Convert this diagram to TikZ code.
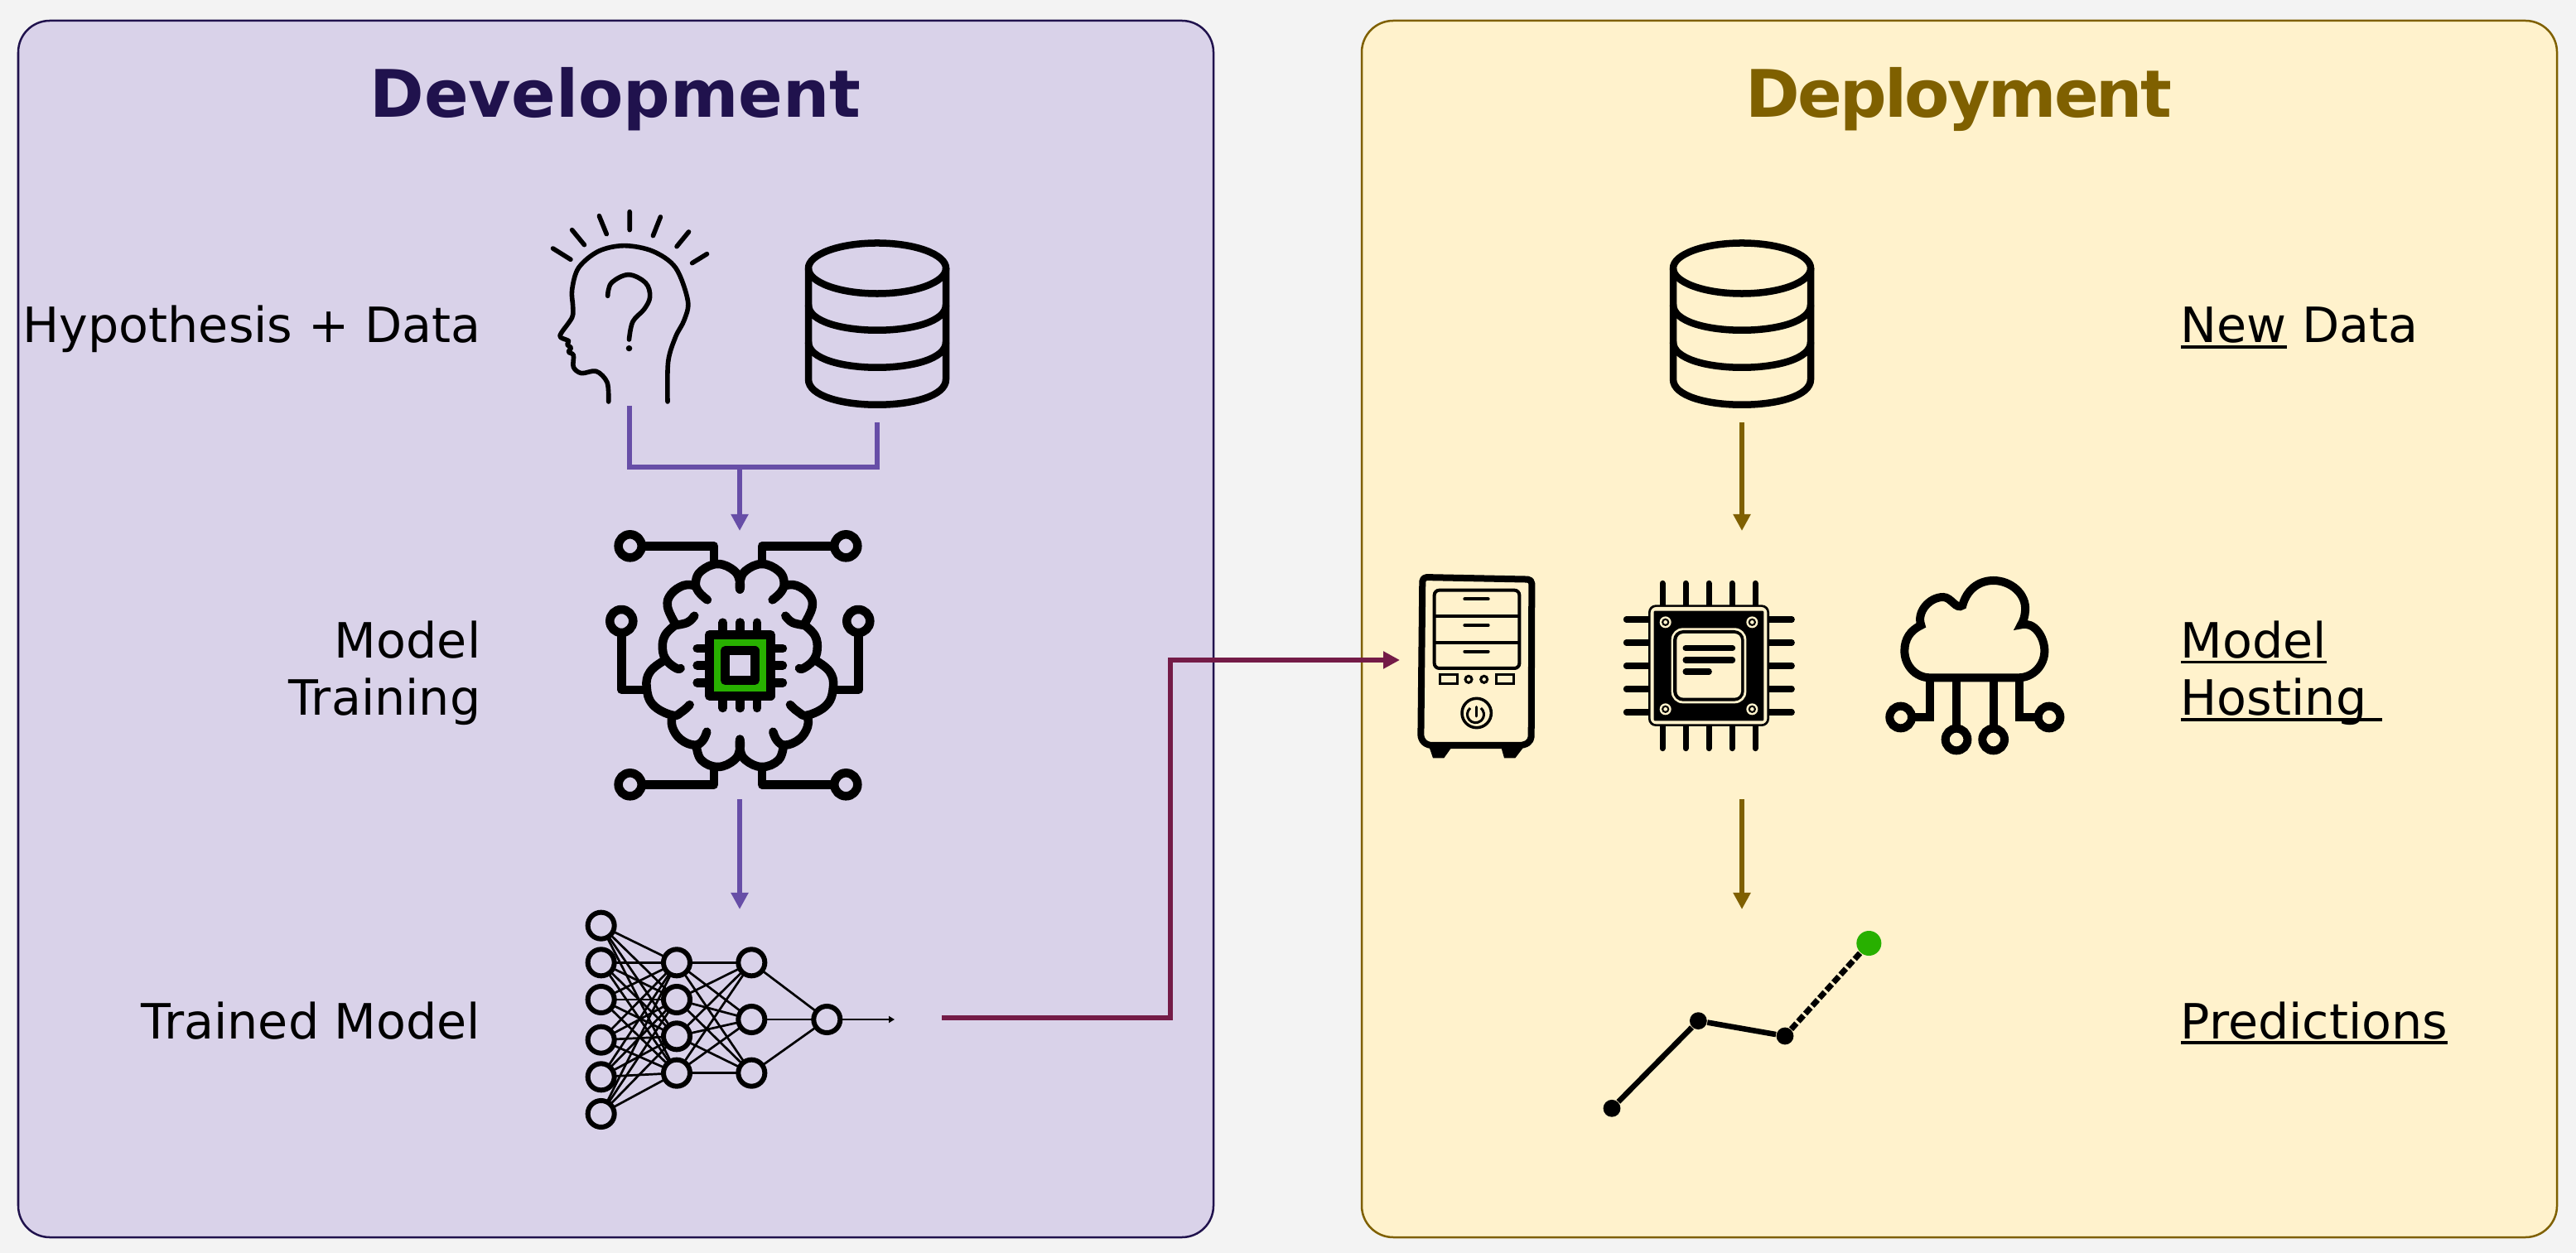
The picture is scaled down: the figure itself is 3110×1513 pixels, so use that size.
\documentclass[tikz,border=0pt]{standalone}
\usepackage{fontspec}
\setmainfont{DejaVu Sans}
\usetikzlibrary{arrows.meta}

\definecolor{pagebg}{HTML}{F3F3F3}
\definecolor{devfill}{HTML}{D9D2E9}
\definecolor{devedge}{HTML}{20124D}
\definecolor{devflow}{HTML}{674EA7}
\definecolor{depfill}{HTML}{FFF2CC}
\definecolor{depedge}{HTML}{7F6000}
\definecolor{handover}{HTML}{741B47}
\definecolor{chipgreen}{HTML}{28B000}

\newcommand{\ulword}[1]{\setbox0\hbox{#1}\rlap{\vrule height -.85pt depth 1.9pt width\wd0}\box0\relax}

\tikzset{
  panel/.style={rounded corners=.38cm,line width=.025cm},
  heading/.style={font=\bfseries\fontsize{22.5}{26}\selectfont},
  rowlabel/.style={font=\fontsize{16.7}{19.7}\selectfont,inner sep=0pt},
  flowline/.style={line width=.06cm},
  flowarrow/.style={line width=.06cm,-{Triangle[length=.2cm,width=.2cm]}},
  thickicon/.style={line width=.105cm,line cap=round,line join=round},
  dbline/.style={line width=.085cm,line join=round},
  headline/.style={line width=.056cm,line cap=round,line join=round},
  nnunit/.style={circle,draw,line width=.06cm,fill=devfill,minimum size=.32cm,inner sep=0pt,outer sep=0pt},
  nnedge/.style={line width=.027cm},
  chippin/.style={line width=.07cm,line cap=round},
  dbicon/.pic={
    \draw[dbline] (0,0) ellipse [x radius=.83cm,y radius=.305cm];
    \draw[dbline] (-83,0) -- (-83,134) .. controls (-83,175) and (83,175) .. (83,134) -- (83,0);
    \draw[dbline] (-83,44) .. controls (-83,85) and (83,85) .. (83,44);
    \draw[dbline] (-83,89) .. controls (-83,130) and (83,130) .. (83,89);
  }
}

\begin{document}
\begin{tikzpicture}[x=.01cm,y=-.01cm]
  \fill[pagebg] (0,0) rectangle (3110,1513);
  \useasboundingbox (0,0) rectangle (3110,1513);

  \draw[panel,draw=devedge,fill=devfill] (22,25) rectangle (1465,1494);
  \draw[panel,draw=depedge,fill=depfill] (1644,25) rectangle (3087,1494);

  \node[heading,text=devedge] (devtitle) at (743,120){Development};
  \node[heading,text=depedge] (deptitle) at (2365,120){\addfontfeature{LetterSpace=-3.5}Deployment};

  \node[rowlabel,anchor=base east] (devdata) at (581,414){Hypothesis + Data};
  \node[rowlabel,anchor=east,align=right] (devtrain) at (581,813){Model\\Training};
  \node[rowlabel,anchor=base east] (devmodel) at (581,1254){Trained Model};
  \node[rowlabel,anchor=base west] (depdata) at (2632,414){\ulword{New} Data};
  \node[rowlabel,anchor=west,align=left] (dephost) at (2632,813){\ulword{Model}\\\ulword{Hosting\ }};
  \node[rowlabel,anchor=base west] (deppred) at (2632,1254){\ulword{Predictions}};

  % head
  \begin{scope}[shift={(640,230)},xscale=.3444,yscale=1/3]
    \draw[headline] (80,210) -- (142,250) (147,143) -- (190,197) (242,92) -- (268,158)
      (349,77) -- (349,143) (457,96) -- (431,164) (556,150) -- (514,203) (620,230) -- (568,263);
    \draw[headline] plot[smooth,tension=.55] coordinates {(275,765) (270,695) (232,655) (180,662)
      (152,640) (152,597) (135,585) (143,570) (130,558) (135,545) (107,532) (110,515) (147,460)
      (150,420) (147,360) (170,280) (240,220) (330,200) (430,220) (510,280) (553,400) (540,470)
      (510,530) (484,620) (482,765)};
    \draw[headline] plot[smooth,tension=.6] coordinates {(272,382) (285,335) (345,305) (405,335)
      (420,385) (400,430) (360,475) (347,540)};
    \fill (347,572) circle [radius=.11cm];
  \end{scope}

  \pic at (1059,324) {dbicon};
  \pic at (2103,324) {dbicon};

  % brain
  \begin{scope}[shift={(893.3,621)},scale=1/3]
    \draw[thickicon] (-398,115) circle [radius=.42cm];
    \draw[thickicon] (384,115) circle [radius=.42cm];
    \draw[thickicon] (-398,979) circle [radius=.42cm];
    \draw[thickicon] (384,979) circle [radius=.42cm];
    \draw[thickicon] (-345,115) -- (-94,115) -- (-94,175);
    \draw[thickicon] (330,115) -- (80,115) -- (80,175);
    \draw[thickicon] (-345,979) -- (-94,979) -- (-94,920);
    \draw[thickicon] (330,979) -- (80,979) -- (80,920);
    \foreach \s in {1,-1}{
      \begin{scope}[xscale=\s]
        \draw[thickicon] (-429,387) circle [radius=.42cm];
        \draw[thickicon] (-429,440) -- (-429,636) -- (-345,636);
        \draw[thickicon] plot[smooth,tension=.7] coordinates {(0,272) (0,245) (-20,205) (-80,180)
          (-140,205) (-160,245) (-150,280) (-118,310)};
        \draw[thickicon] plot[smooth,tension=.7] coordinates {(-165,258) (-205,258) (-250,290)
          (-262,335) (-235,395)};
        \draw[thickicon] plot[smooth,tension=.7] coordinates {(-165,368) (-190,392) (-235,402)};
        \draw[thickicon] plot[smooth,tension=.7] coordinates {(-235,402) (-272,440) (-280,490)
          (-265,530) (-230,558) (-215,558)};
        \draw[thickicon] plot[smooth,tension=.7] coordinates {(-275,530) (-325,570) (-338,625)
          (-315,690) (-245,728) (-210,715) (-182,690)};
        \draw[thickicon] plot[smooth,tension=.7] coordinates {(-245,728) (-245,770) (-215,815)
          (-165,836) (-135,820) (-120,788)};
        \draw[thickicon] plot[smooth,tension=.7] coordinates {(-158,836) (-140,890) (-80,915)
          (-20,890) (0,850) (0,815)};
        \foreach \p in {486,548,610}
          \draw[thickicon] (-155,\p) -- (-125,\p);
        \foreach \p in {0,62}{
          \draw[thickicon] (-\p,392) -- (-\p,422);
          \draw[thickicon] (-\p,672) -- (-\p,702);
        }
      \end{scope}
    }
    \draw[thickicon,fill=chipgreen] (-111,436) rectangle (111,658);
    \draw[thickicon,fill=devfill] (-54,494) rectangle (54,602);
  \end{scope}

  % network
  \begin{scope}[shift={(690,1082)},scale=1/3]
    \foreach \name/\x/\y in {a1/107/107,a2/107/241,a3/107/375,a4/107/521,a5/107/655,a6/107/789,
      b1/381/241,b2/381/375,b3/381/508,b4/381/641,c1/652/241,c2/652/447,c3/652/641,d1/925/447}
      \node[nnunit] (\name) at (\x,\y){};
    \coordinate (nnout) at (1170,447);
  \end{scope}
  \foreach \a in {a1,a2,a3,a4,a5,a6}
    \foreach \b in {b1,b2,b3,b4}
      \draw[nnedge] (\a) -- (\b);
  \foreach \b in {b1,b2,b3,b4}
    \foreach \c in {c1,c2,c3}
      \draw[nnedge] (\b) -- (\c);
  \foreach \c in {c1,c2,c3}
    \draw[nnedge] (\c) -- (d1);
  \draw[nnedge,-{Triangle[length=.07cm,width=.08cm]}] (d1) -- (nnout);

  % server and processor
  \begin{scope}[shift={(1690,681)},scale=1/3]
    \draw[line width=.08cm,line join=round,rounded corners=.05cm] (82,48) -- (478,56) -- (476,640)
      -- (450,657) -- (100,657) -- (76,635) -- cycle;
    \fill (108,668) -- (120,703) -- (160,703) -- (185,668) -- cycle;
    \fill (368,668) -- (378,703) -- (418,703) -- (445,668) -- cycle;
    \draw[line width=.04cm,rounded corners=.06cm] (125,95) rectangle (433,378);
    \draw[line width=.04cm] (128,190) -- (430,190) (128,285) -- (430,285);
    \foreach \p in {127,222,317}
      \draw[line width=.04cm,line cap=round] (235,\p) -- (320,\p);
    \draw[line width=.03cm] (145,402) rectangle (208,434) (348,402) rectangle (411,434);
    \draw[line width=.03cm] (249,418) circle [radius=.12cm] (305,418) circle [radius=.12cm];
    \draw[line width=.035cm] (278,540) circle [radius=.53cm];
    \draw[line width=.03cm] (255,522) arc [start angle=130,end angle=410,radius=.3cm];
    \draw[line width=.03cm,line cap=round] (278,518) -- (278,552);

    \foreach \p in {951,1035,1119,1203,1287}
      \draw[chippin] (\p,70) -- (\p,150) (\p,590) -- (\p,668);
    \foreach \p in {201,285,369,453,537}
      \draw[chippin] (820,\p) -- (900,\p) (1340,\p) -- (1420,\p);
    \fill[rounded corners=.09cm] (900,148) rectangle (1338,588);
    \fill[depfill,rounded corners=.07cm] (908,156) rectangle (1330,580);
    \fill[rounded corners=.01cm] (920,170) rectangle (1318,568);
    \foreach \x in {962,1276}
      \foreach \y in {211,526}{
        \fill[depfill] (\x,\y) circle [radius=.21cm];
        \fill (\x,\y) circle [radius=.14cm];
        \fill[depfill] (\x,\y) circle [radius=.07cm];
      }
    \fill[depfill,rounded corners=.14cm] (983,232) rectangle (1255,505);
    \fill[rounded corners=.12cm] (990,240) rectangle (1247,497);
    \fill[depfill,rounded corners=.08cm] (1003,252) rectangle (1236,485);
    \draw[chippin] (1035,305) -- (1205,305) (1035,348) -- (1205,348) (1035,390) -- (1120,390);
  \end{scope}

  % cloud
  \begin{scope}[shift={(2260,681)},scale=1/3]
    \draw[line width=.1cm,line join=miter] (210,412) to[out=180,in=270] (118,315)
      to[out=90,in=205] (178,222) to[out=110,in=180] (258,120) to[out=0,in=215] (328,150)
      to[out=75,in=180] (440,60) to[out=0,in=85] (555,170) to[out=265,in=60] (540,220)
      to[out=15,in=90] (625,315) to[out=270,in=0] (530,412) -- cycle;
    \draw[line width=.1cm] (211,412) -- (211,555) -- (150,555);
    \draw[line width=.1cm] (306,412) -- (306,590);
    \draw[line width=.1cm] (440,412) -- (440,590);
    \draw[line width=.1cm] (535,412) -- (535,555) -- (595,555);
    \foreach \x/\y in {104/555,306/636,440/636,642/555}
      \draw[line width=.1cm] (\x,\y) circle [radius=.4cm];
  \end{scope}

  % forecast
  \begin{scope}[shift={(1920,1102)},scale=1/3]
    \node[circle,fill,inner sep=0pt,minimum size=.208cm] (p0) at (78,709){};
    \node[circle,fill,inner sep=0pt,minimum size=.208cm] (p1) at (391,392){};
    \node[circle,fill,inner sep=0pt,minimum size=.208cm] (p2) at (705,447){};
    \node[circle,fill=chipgreen,inner sep=0pt,minimum size=.3cm] (p3) at (1009,111){};
  \end{scope}
  \draw[line width=.066cm] (p0) -- (p1);
  \draw[line width=.066cm] (p1) -- (p2);
  \draw[line width=.07cm,dash pattern=on .095cm off .032cm] (p2) -- (p3);

  % flows
  \coordinate (headfoot) at (760,490);
  \coordinate (busleft) at (760,564);
  \coordinate (busright) at (1059,564);
  \coordinate (dbfoot) at (1059,510);
  \coordinate (busmid) at (893,564);
  \coordinate (braintop) at (893,641);
  \coordinate (brainfoot) at (893,965);
  \coordinate (nntop) at (893,1098);
  \coordinate (depdbfoot) at (2103,510);
  \coordinate (chiptop) at (2103,641);
  \coordinate (chipfoot) at (2103,965);
  \coordinate (forecasttop) at (2103,1098);
  \coordinate (nnfoot) at (1137,1229);
  \coordinate (handa) at (1413,1229);
  \coordinate (handb) at (1413,797);
  \coordinate (servertop) at (1690,797);

  \draw[flowline,devflow] (headfoot) -- (busleft) -- (busright) -- (dbfoot);
  \draw[flowarrow,devflow] (busmid) -- (braintop);
  \draw[flowarrow,devflow] (brainfoot) -- (nntop);
  \draw[flowarrow,depedge] (depdbfoot) -- (chiptop);
  \draw[flowarrow,depedge] (chipfoot) -- (forecasttop);
  \draw[flowarrow,handover] (nnfoot) -- (handa) -- (handb) -- (servertop);
\end{tikzpicture}
\end{document}
